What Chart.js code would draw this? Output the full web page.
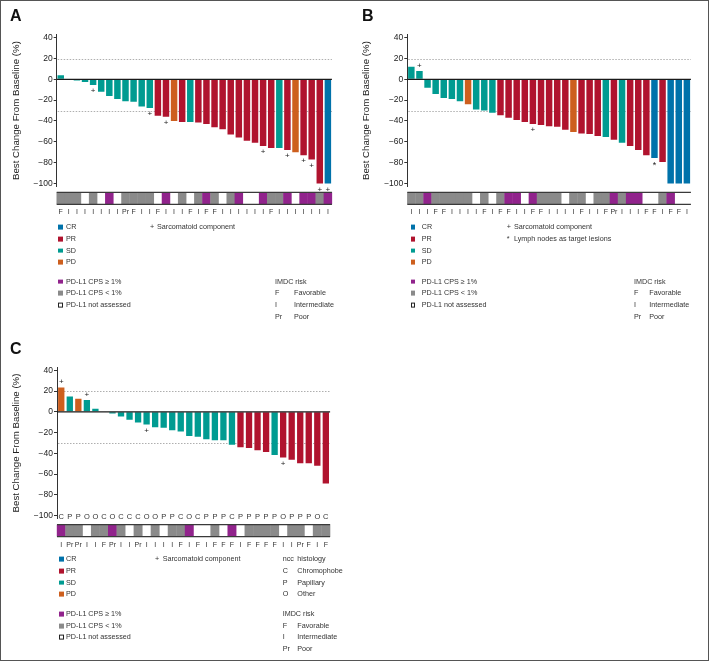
<!DOCTYPE html>
<html><head><meta charset="utf-8">
<script src="https://cdn.jsdelivr.net/npm/chart.js@4.4.0/dist/chart.umd.min.js"></script>
<style>
html,body{margin:0;padding:0;background:#fff;}
#fig{position:relative;width:709px;height:661px;overflow:hidden;font-family:"Liberation Sans",Arial,sans-serif;background:#fff;}
#frame{position:absolute;left:0;top:0;width:709px;height:661px;box-sizing:border-box;border:1px solid #555;pointer-events:none;}
canvas{position:absolute;}
.t{position:absolute;font-size:7.2px;color:#333;white-space:nowrap;line-height:1;transform:translateY(-50%);}
.sq{position:absolute;width:4.8px;height:4.8px;transform:translateY(-50%);box-sizing:border-box;}
.pl{position:absolute;font-weight:bold;font-size:16px;line-height:16px;color:#111;}
</style></head><body>
<div id="fig">
<canvas id="cA" width="350" height="225" style="left:0;top:0;width:350px;height:225px"></canvas>
<canvas id="cB" width="359" height="225" style="left:350px;top:0;width:359px;height:225px"></canvas>
<canvas id="cC" width="350" height="225" style="left:0;top:330px;width:350px;height:225px"></canvas>
<div class="pl" style="left:10px;top:8px">A</div>
<div class="pl" style="left:362px;top:8px">B</div>
<div class="pl" style="left:10px;top:341px">C</div>
<div id="frame"></div>
</div>
<script>
// ---------- shared ----------
const yTicks = [40, 20, 0, -20, -40, -60, -80, -100];
const refLines = [20, -30];
const respColors = {CR:'#0072aa', PR:'#b0132e', SD:'#009b91', PD:'#cd5f1e'};
const pdColors = {P:'#91238c', G:'#8a8a8a', W:'#ffffff'};
const respLegend = ['CR', 'PR', 'SD', 'PD'];
const pdLegend = [['P', 'PD-L1 CPS \u2265 1%'], ['G', 'PD-L1 CPS < 1%'], ['W', 'PD-L1 not assessed']];
const imdcLegend = [['F', 'Favorable'], ['I', 'Intermediate'], ['Pr', 'Poor']];
const histLegend = [['C', 'Chromophobe'], ['P', 'Papillary'], ['O', 'Other']];

// ---------- Panel A ----------
const imdcA = ['F','I','I','I','I','I','I','I','Pr','F','I','I','F','I','I','I','F','I','F','F','I','I','I','I','I','I','F','I','I','I','I','I','I','I'];
const valuesA = [4,0,-1,-2.5,-5.5,-12,-16,-19,-21,-21.5,-26,-27.5,-35,-36,-40,-41,-41,-41.5,-43,-46,-48,-53,-56,-59,-61,-64,-66,-66,-68,-70,-73,-77,-100,-100];
const responseA = ['SD','SD','SD','SD','SD','SD','SD','SD','SD','SD','SD','SD','PR','PR','PD','PR','SD','PR','PR','PR','PR','PR','PR','PR','PR','PR','PR','SD','PR','PD','PR','PR','PR','CR'];
const pdl1A = ['G','G','G','W','G','W','P','W','G','G','G','G','W','P','W','G','W','G','P','G','W','G','P','W','W','P','G','G','P','W','P','P','G','P'];
const sarcA = [4,11,13,25,28,30,31,32,33];

// ---------- Panel B ----------
const imdcB = ['I','I','I','F','F','I','I','I','I','F','I','F','F','I','I','F','F','I','I','I','I','F','I','I','F','Pr','I','I','I','F','F','I','F','F','I'];
const valuesB = [12,8,-8,-14,-18,-19,-21,-24,-29,-30,-32,-34.5,-37,-39,-41,-43,-44,-45,-45.5,-48.5,-50.5,-52,-52.5,-54.5,-55.5,-58,-61,-64,-68,-73,-75.5,-79.5,-100,-100,-100];
const responseB = ['SD','SD','SD','SD','SD','SD','SD','PD','SD','SD','SD','PR','PR','PR','PR','PR','PR','PR','PR','PR','PD','PR','PR','PR','SD','PR','SD','PR','PR','PR','CR','PR','CR','CR','CR'];
const pdl1B = ['G','G','P','G','G','G','G','G','W','G','W','G','P','P','W','P','G','G','G','W','G','G','W','G','G','P','G','P','P','W','W','G','P','W','W'];
const sarcB = [1,15];
const lymphB = [30];

// ---------- Panel C ----------
const imdcC = ['I','Pr','Pr','I','I','F','Pr','I','I','Pr','I','I','I','I','F','I','F','I','F','F','F','I','F','F','F','F','I','I','Pr','F','I','F'];
const histC = ['C','P','P','O','O','C','O','C','C','C','O','O','P','P','C','O','C','P','P','P','C','P','P','P','P','P','O','P','P','P','O','C'];
const valuesC = [23.5,14.8,12.6,11.3,2.9,0,-1.6,-4.5,-7.7,-10.3,-12.3,-14.8,-15.2,-17.7,-19,-23.2,-23.9,-26.5,-27.4,-27.4,-31.6,-34.2,-34.8,-37.1,-38.7,-41.6,-43.9,-46.1,-49.4,-49.4,-51.9,-69];
const responseC = ['PD','SD','PD','SD','SD','SD','SD','SD','SD','SD','SD','SD','SD','SD','SD','SD','SD','SD','SD','SD','SD','PR','PR','PR','PR','SD','PR','PR','PR','PR','PR','PR'];
const pdl1C = ['P','G','G','W','G','G','P','G','W','G','W','G','W','G','G','P','W','W','G','W','P','W','G','G','G','G','W','G','G','W','G','G'];
const sarcC = [0,3,10,26];

const FONT = '"Liberation Sans", Arial, sans-serif';

const extras = {
  id: 'extras',
  beforeDatasetsDraw(chart, args, o) {
    const {ctx, chartArea: ca, scales: {y}} = chart;
    ctx.save();
    ctx.strokeStyle = '#9a9a9a'; ctx.lineWidth = 0.8; ctx.setLineDash([1.5, 1.5]);
    o.refLines.forEach(v => {
      const py = Math.round(y.getPixelForValue(v)) + 0.5;
      ctx.beginPath(); ctx.moveTo(ca.left + 1, py); ctx.lineTo(ca.right, py); ctx.stroke();
    });
    ctx.restore();
  },
  afterDatasetsDraw(chart, args, o) {
    const {ctx, chartArea: ca, scales: {x, y}} = chart;
    const vals = chart.data.datasets[0].data;
    const meta = chart.getDatasetMeta(0);
    ctx.save();
    const y0 = y.getPixelForValue(0);
    ctx.strokeStyle = '#1a1a1a'; ctx.lineWidth = 1.2;
    ctx.beginPath(); ctx.moveTo(ca.left, y0); ctx.lineTo(ca.right, y0); ctx.stroke();
    ctx.fillStyle = '#222'; ctx.textAlign = 'center'; ctx.textBaseline = 'middle';
    o.marks.forEach(m => {
      ctx.font = m.size + 'px ' + FONT;
      m.idx.forEach(i => {
        const bar = meta.data[i];
        const up = vals[i] > 0;
        ctx.fillText(m.sym, bar.x, bar.y + (up ? -5.5 : m.off));
      });
    });
    const pitch = x.getPixelForValue(1) - x.getPixelForValue(0);
    const top = ca.bottom + o.stripGap, h = o.stripH;
    o.pdl1.forEach((c, i) => {
      if (c === 'W') return;
      const cx = x.getPixelForValue(i);
      ctx.fillStyle = pdColors[c];
      ctx.fillRect(cx - pitch / 2 - 0.2, top, pitch + 0.4, h);
    });
    const x0 = x.getPixelForValue(0) - pitch / 2, x1 = x.getPixelForValue(o.pdl1.length - 1) + pitch / 2;
    ctx.strokeStyle = '#3a3a3a'; ctx.lineWidth = 1.3;
    [top, top + h].forEach(yy => { ctx.beginPath(); ctx.moveTo(x0, yy); ctx.lineTo(x1, yy); ctx.stroke(); });
    if (o.hist) {
      ctx.fillStyle = '#333'; ctx.font = '7.5px ' + FONT;
      const hy = y.getPixelForValue(-100) + 1.6;
      o.hist.forEach((t, i) => ctx.fillText(t, x.getPixelForValue(i), hy));
    }
    ctx.restore();
  }
};

function makeChart(id, labels, values, response, cfg) {
  return new Chart(document.getElementById(id), {
    type: 'bar',
    data: {
      labels: labels,
      datasets: [{
        data: values,
        backgroundColor: response.map(r => respColors[r]),
        borderWidth: 0,
        barPercentage: cfg.barPct,
        categoryPercentage: 1
      }]
    },
    options: {
      responsive: false, animation: false, devicePixelRatio: 1,
      layout: {padding: {top: cfg.padTop, right: cfg.padRight, left: 0, bottom: 0}},
      plugins: {
        legend: {display: false}, tooltip: {enabled: false},
        extras: {refLines: refLines, marks: cfg.marks, pdl1: cfg.pdl1, stripGap: 5.8, stripH: 12, hist: cfg.hist || null}
      },
      scales: {
        x: {
          grid: {display: false, drawTicks: false},
          border: {display: false},
          ticks: {font: {size: 7, family: FONT}, color: '#333', padding: cfg.xPad, autoSkip: false, maxRotation: 0, minRotation: 0},
          afterFit: s => { s.height = cfg.xH; }
        },
        y: {
          min: -103, max: 43,
          afterBuildTicks: s => { s.ticks = yTicks.map(v => ({value: v})); },
          ticks: {font: {size: 8.5, family: FONT}, color: '#222', padding: 1,
                  callback: v => (v < 0 ? '\u2212' + Math.abs(v) : String(v))},
          grid: {drawOnChartArea: false, drawTicks: true, tickLength: 3, color: '#333'},
          border: {display: true, color: '#333', width: 1},
          title: {display: true, text: 'Best Change From Baseline (%)', font: {size: 9.7, family: FONT}, color: '#222', padding: {top: 10.5, bottom: 0}},
          afterFit: s => { s.width = cfg.yW; }
        }
      }
    },
    plugins: [extras]
  });
}

makeChart('cA', imdcA, valuesA, responseA, {
  barPct: 0.8, padTop: 34.6, padRight: 10, xH: 38.5, xPad: 21, yW: 56.7, pdl1: pdl1A,
  marks: [{sym: '+', idx: sarcA, off: 6, size: 8}]
});
makeChart('cB', imdcB, valuesB, responseB, {
  barPct: 0.8, padTop: 34.6, padRight: 10.7, xH: 38.5, xPad: 21, yW: 57.3, pdl1: pdl1B,
  marks: [{sym: '+', idx: sarcB, off: 6, size: 8}, {sym: '*', idx: lymphB, off: 7.5, size: 9}]
});
makeChart('cC', imdcC, valuesC, responseC, {
  barPct: 0.74, padTop: 37.2, padRight: 2, xH: 36.2, xPad: 22, yW: 57, pdl1: pdl1C, hist: histC,
  marks: [{sym: '+', idx: sarcC, off: 6, size: 8}]
});

// ---------- HTML legends ----------
const fig = document.getElementById('fig');
function txt(x, y, s) {
  const d = document.createElement('div'); d.className = 't';
  d.style.left = x + 'px'; d.style.top = y + 'px'; d.textContent = s; fig.appendChild(d);
}
function sq(x, y, c) {
  const d = document.createElement('div'); d.className = 'sq';
  d.style.left = x + 'px'; d.style.top = y + 'px';
  if (c === '#ffffff') { d.style.border = '1px solid #222'; d.style.background = '#fff'; }
  else d.style.background = c;
  fig.appendChild(d);
}
function legend(L) {
  respLegend.forEach((r, i) => { sq(L.sqX, L.respY[i], respColors[r]); txt(L.textX, L.respY[i], r); });
  pdLegend.forEach((p, i) => { sq(L.sqX, L.pdY[i], pdColors[p[0]]); txt(L.textX, L.pdY[i], p[1]); });
  L.notes.forEach((n, i) => { txt(L.noteX, L.noteY[i], n[0]); txt(L.noteTextX, L.noteY[i], n[1]); });
  if (L.hist) {
    txt(L.keyX, L.histY[0], 'ncc'); txt(L.descX, L.histY[0], 'histology');
    histLegend.forEach((h, i) => { txt(L.keyX, L.histY[i + 1], h[0]); txt(L.descX, L.histY[i + 1], h[1]); });
  }
  txt(L.keyX, L.imdcY[0], 'IMDC risk');
  imdcLegend.forEach((m, i) => { txt(L.keyX, L.imdcY[i + 1], m[0]); txt(L.descX, L.imdcY[i + 1], m[1]); });
}
legend({sqX: 58, textX: 66, respY: [227.3, 239, 250.7, 262.3], pdY: [281.7, 293.3, 305],
  notes: [['+', 'Sarcomatoid component']], noteX: 150, noteTextX: 157, noteY: [226.7],
  keyX: 275, descX: 294, imdcY: [281.7, 293.3, 305, 316.7]});
legend({sqX: 410.5, textX: 421.7, respY: [227.3, 239, 250.7, 262.3], pdY: [281.7, 293.3, 305],
  notes: [['+', 'Sarcomatoid component'], ['*', 'Lymph nodes as target lesions']], noteX: 506.7, noteTextX: 514, noteY: [226.7, 239],
  keyX: 634, descX: 649.3, imdcY: [281.7, 293.3, 305, 316.7]});
legend({sqX: 59, textX: 66, respY: [559.3, 571, 582.7, 594.3], pdY: [614.3, 626, 637.3],
  notes: [['+', 'Sarcomatoid component']], noteX: 155, noteTextX: 162.7, noteY: [559.3],
  hist: true, histY: [559.3, 571, 582.7, 594.3],
  keyX: 282.7, descX: 297.3, imdcY: [614.3, 626, 637.3, 649]});
</script>
</body></html>
